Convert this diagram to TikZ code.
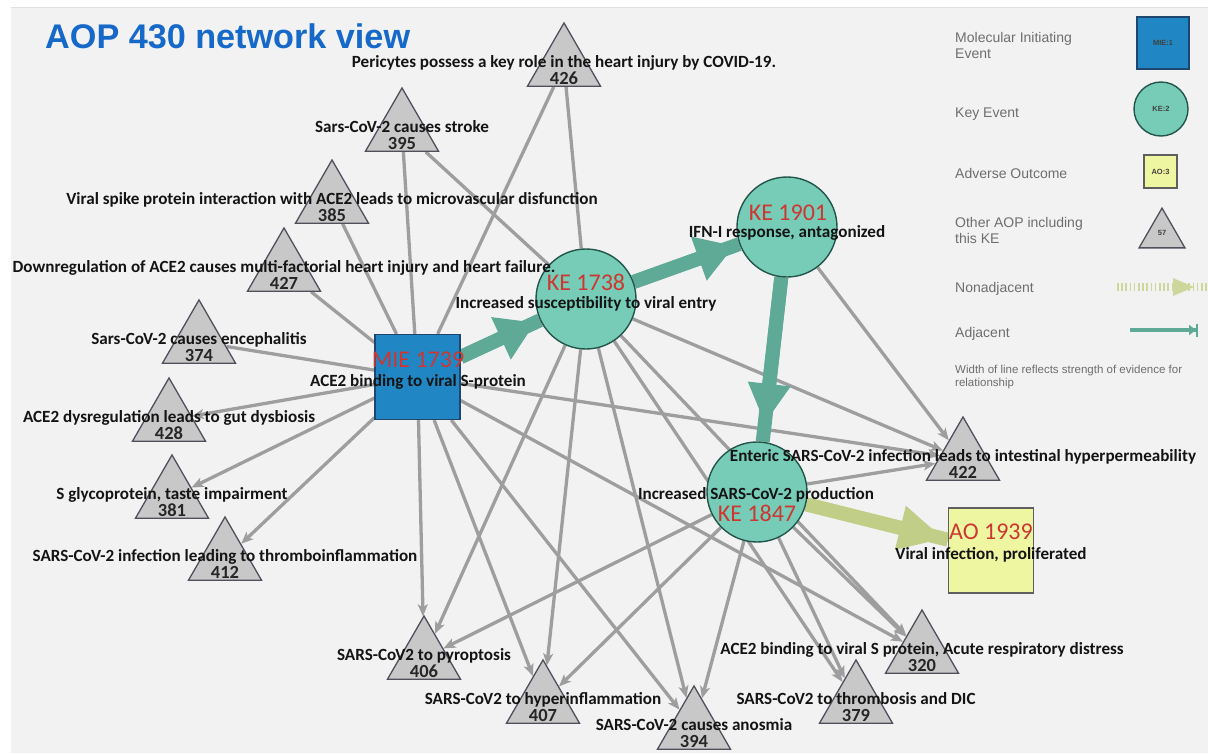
\documentclass[tikz,border=0pt]{standalone}
\usepackage{fontspec}
\setmainfont{Carlito}
\newfontfamily\lib{Liberation Sans}
\usetikzlibrary{shapes.geometric,arrows.meta,calc}
\pgfdeclarelayer{back}
\pgfdeclarelayer{bg}
\pgfsetlayers{back,bg,main}

\definecolor{bgc}{RGB}{242,242,242}
\definecolor{mieblue}{RGB}{33,135,196}
\definecolor{mieborder}{RGB}{30,70,110}
\definecolor{keteal}{RGB}{118,204,183}
\definecolor{keborder}{RGB}{35,85,75}
\definecolor{aoyellow}{RGB}{238,246,162}
\definecolor{aoborder}{RGB}{95,95,95}
\definecolor{trifill}{RGB}{200,200,200}
\definecolor{triborder}{RGB}{80,80,92}
\definecolor{edgegray}{RGB}{158,158,158}
\definecolor{adjteal}{RGB}{95,170,150}
\definecolor{olivec}{RGB}{192,206,135}
\definecolor{oliveleg}{RGB}{205,215,155}
\definecolor{idred}{RGB}{205,55,50}
\definecolor{titleblue}{RGB}{22,105,200}
\definecolor{legtext}{RGB}{110,110,110}

\newcommand{\aopshape}[3]{\node[tri] (#1) at (#2,#3+42.1) {};}
\newcommand{\aoplabel}[5]{%
  \node[lbl] (#1-t) at (#2,#3+38.5) {#5};
  \node[num] (#1-n) at (#2,#3+55.5) {#4};}

\begin{document}
\begin{tikzpicture}[x=1pt,y=-1pt,
  tri/.style={regular polygon, regular polygon sides=3, minimum size=84.3pt, inner sep=0pt, fill=trifill, draw=triborder, line width=1.3pt},
  miebox/.style={rectangle, minimum size=85pt, inner sep=0pt, fill=mieblue, draw=mieborder, line width=1.2pt},
  kecirc/.style={circle, minimum size=100pt, inner sep=0pt, fill=keteal, draw=keborder, line width=1.4pt},
  aobox/.style={rectangle, minimum size=85pt, inner sep=0pt, fill=aoyellow, draw=aoborder, line width=1.2pt},
  lbl/.style={font=\bfseries\fontsize{17.1}{18}\selectfont, inner sep=0pt, text height=11pt, text depth=0pt, text=black!92},
  num/.style={font=\bfseries\fontsize{18.5}{20}\selectfont, inner sep=0pt, text height=11.7pt, text depth=0pt, text=black!85},
  idl/.style={font=\fontsize{24}{26}\selectfont, text=idred, inner sep=0pt, text height=15.5pt, text depth=0pt},
  legt/.style={font=\lib\fontsize{14}{16}\selectfont, text=legtext, inner sep=0pt, anchor=west, text height=10pt, text depth=0pt},
  legs/.style={font=\lib\fontsize{11.5}{13}\selectfont, text=legtext, inner sep=0pt, anchor=west, text height=8.2pt, text depth=0pt},
  tiny/.style={font=\lib\bfseries\fontsize{7.5}{8}\selectfont, text=black!75, inner sep=0pt},
  ge/.style={draw=edgegray, line width=3.3pt},
  ga/.style={ge, -{Stealth[length=12pt,width=10pt,inset=3pt]}},
  thick adj/.style={draw=adjteal, line width=14pt},
  thick non/.style={draw=olivec, line width=14pt}
]
\useasboundingbox (0,0) rectangle (1208,753);
\begin{pgfonlayer}{back}
\fill[white] (0,0) rectangle (1208,753);
\fill[bgc] (11,7) rectangle (1208,753);
\draw[black!12, line width=0.8pt] (11,7) -- (1208,7);
\end{pgfonlayer}

% title
\node[font=\lib\bfseries\fontsize{34.2}{37}\selectfont, text=titleblue, anchor=base west, inner sep=0pt] (title) at (45,48) {AOP 430 network view};

% main nodes
\node[miebox] (mie) at (417.5,377) {};
\node[kecirc] (ke1738) at (586,299) {};
\node[kecirc] (ke1901) at (787,227) {};
\node[kecirc] (ke1847) at (757,492) {};
\node[aobox] (ao) at (991,550.5) {};

% triangles
\aopshape{t426}{564}{23}
\aopshape{t395}{402}{88}
\aopshape{t385}{332}{160}
\aopshape{t427}{284}{228}
\aopshape{t374}{199}{300}
\aopshape{t428}{169}{378}
\aopshape{t381}{172}{455}
\aopshape{t412}{225}{517}
\aopshape{t406}{424}{616}
\aopshape{t407}{543}{660}
\aopshape{t394}{694}{686}
\aopshape{t379}{856}{660}
\aopshape{t320}{922}{610}
\aopshape{t422}{963}{417}

% edges
\begin{pgfonlayer}{bg}
  % from MIE
  \draw[ge] (mie) -- (t395);
  \draw[ge] (mie) -- (t426);
  \draw[ge] (mie) -- (t385);
  \draw[ge] (mie) -- (t427);
  \draw[ge] (mie) -- (t374);
  \draw[ga] (mie) -- (t428);
  \draw[ga] (mie) -- (t381);
  \draw[ga] (mie) -- (t412);
  \draw[ga] (mie) -- (t406);
  \draw[ga] (mie) -- (t407);
  \draw[ga] (mie) -- (t394);
  \draw[ga] (mie) -- (t320);
  \draw[ga] (mie) -- (t422);
  % from KE 1738
  \draw[ge] (ke1738) -- (t395);
  \draw[ge] (ke1738) -- (t426);
  \draw[ga] (ke1738) -- (t406);
  \draw[ga] (ke1738) -- (t407);
  \draw[ga] (ke1738) -- (t394);
  \draw[ga] (ke1738) -- (t379);
  \draw[ga] (ke1738) -- (t320);
  \draw[ga] (ke1738) -- (t422);
  % from KE 1847
  \draw[ga] (ke1847) -- (t406);
  \draw[ga] (ke1847) -- (t407);
  \draw[ga] (ke1847) -- (t394);
  \draw[ga] (ke1847) -- (t379);
  \draw[ga] (ke1847) -- (t320);
  \draw[ga] (ke1847) -- (t422);
  % from KE 1901
  \draw[ga] (ke1901) -- (t422);
  % key event relationships
  \draw[thick adj] (mie) -- (ke1738);
  \draw[thick adj, shorten >=5pt, -{Triangle[length=38pt,width=44pt]}] (mie) -- (ke1738);
  \draw[thick adj] (ke1738) -- (ke1901);
  \draw[thick adj, shorten >=5pt, -{Triangle[length=38pt,width=44pt]}] (ke1738) -- (ke1901);
  \draw[thick adj] (ke1901) -- (ke1847);
  \draw[thick adj, shorten >=18pt, -{Triangle[length=40pt,width=40pt]}] (ke1901) -- (ke1847);
  \draw[thick non] (ke1847) -- (ao);
  \draw[thick non, shorten >=4pt, -{Triangle[length=45pt,width=42pt]}] (ke1847) -- (ao);
\end{pgfonlayer}

% triangle labels
\aoplabel{t426}{564}{23}{426}{Pericytes possess a key role in the heart injury by COVID-19.}
\aoplabel{t395}{402}{88}{395}{Sars-CoV-2 causes stroke}
\aoplabel{t385}{332}{160}{385}{Viral spike protein interaction with ACE2 leads to microvascular disfunction}
\aoplabel{t427}{284}{228}{427}{Downregulation of ACE2 causes multi-factorial heart injury and heart failure.}
\aoplabel{t374}{199}{300}{374}{Sars-CoV-2 causes encephalitis}
\aoplabel{t428}{169}{378}{428}{ACE2 dysregulation leads to gut dysbiosis}
\aoplabel{t381}{172}{455}{381}{S glycoprotein, taste impairment}
\aoplabel{t412}{225}{517}{412}{SARS-CoV-2 infection leading to thromboinflammation}
\aoplabel{t406}{424}{616}{406}{SARS-CoV2 to pyroptosis}
\aoplabel{t407}{543}{660}{407}{SARS-CoV2 to hyperinflammation}
\aoplabel{t394}{694}{686}{394}{SARS-CoV-2 causes anosmia}
\aoplabel{t379}{856}{660}{379}{SARS-CoV2 to thrombosis and DIC}
\aoplabel{t320}{922}{610}{320}{ACE2 binding to viral S protein, Acute respiratory distress}
\aoplabel{t422}{963}{417}{422}{Enteric SARS-CoV-2 infection leads to intestinal hyperpermeability}

% main labels
\node[idl] (mie-id) at (418,360) {MIE 1739};
\node[lbl] (mie-t) at (418,381) {ACE2 binding to viral S-protein};
\node[idl] (ke1738-id) at (586,283) {KE 1738};
\node[lbl] (ke1738-t) at (586,303) {Increased susceptibility to viral entry};
\node[idl] (ke1901-id) at (788,213) {KE 1901};
\node[lbl] (ke1901-t) at (787,232) {IFN-I response, antagonized};
\node[lbl] (ke1847-t) at (756,494) {Increased SARS-CoV-2 production};
\node[idl] (ke1847-id) at (757,514) {KE 1847};
\node[idl] (ao-id) at (991,532) {AO 1939};
\node[lbl] (ao-t) at (991,554) {Viral infection, proliferated};

% legend
\node[legt] (l1a) at (955,37) {Molecular Initiating};
\node[legt] (l1b) at (955,53) {Event};
\node[legt] (l2) at (955,112) {Key Event};
\node[legt] (l3) at (955,173) {Adverse Outcome};
\node[legt] (l4a) at (955,222) {Other AOP including};
\node[legt] (l4b) at (955,238) {this KE};
\node[legt] (l5) at (955,287) {Nonadjacent};
\node[legt] (l6) at (955,332) {Adjacent};
\node[legs] (l7a) at (955,369) {Width of line reflects strength of evidence for};
\node[legs] (l7b) at (955,382) {relationship};

\node[miebox, minimum size=52pt] (lg-mie) at (1163,43) {};
\node[tiny] at (lg-mie) {MIE:1};
\node[kecirc, minimum size=54pt] (lg-ke) at (1161,109) {};
\node[tiny] at (lg-ke) {KE:2};
\node[aobox, minimum size=33pt] (lg-ao) at (1160.5,171.5) {};
\node[tiny] at (lg-ao) {AO:3};
\node[tri, minimum size=53pt] (lg-tri) at (1162,234.6) {};
\node[tiny] at (1162,233) {57};

\coordinate (n1) at (1117,287);
\coordinate (n2) at (1208,287);
\coordinate (na) at (1173,287);
\coordinate (nb) at (1194,287);
\draw[oliveleg, line width=8pt, dash pattern=on 1.6pt off 2.6pt] (n1) -- (n2);
\fill[oliveleg] ($(na)+(0,-9)$) -- (nb) -- ($(na)+(0,9)$) -- cycle;

\coordinate (a1) at (1130,330);
\coordinate (a2) at (1198,330);
\draw[adjteal, line width=3.5pt, -{Triangle[length=7pt,width=10pt]Bar[width=13pt,line width=2pt]}] (a1) -- (a2);
\end{tikzpicture}
\end{document}
